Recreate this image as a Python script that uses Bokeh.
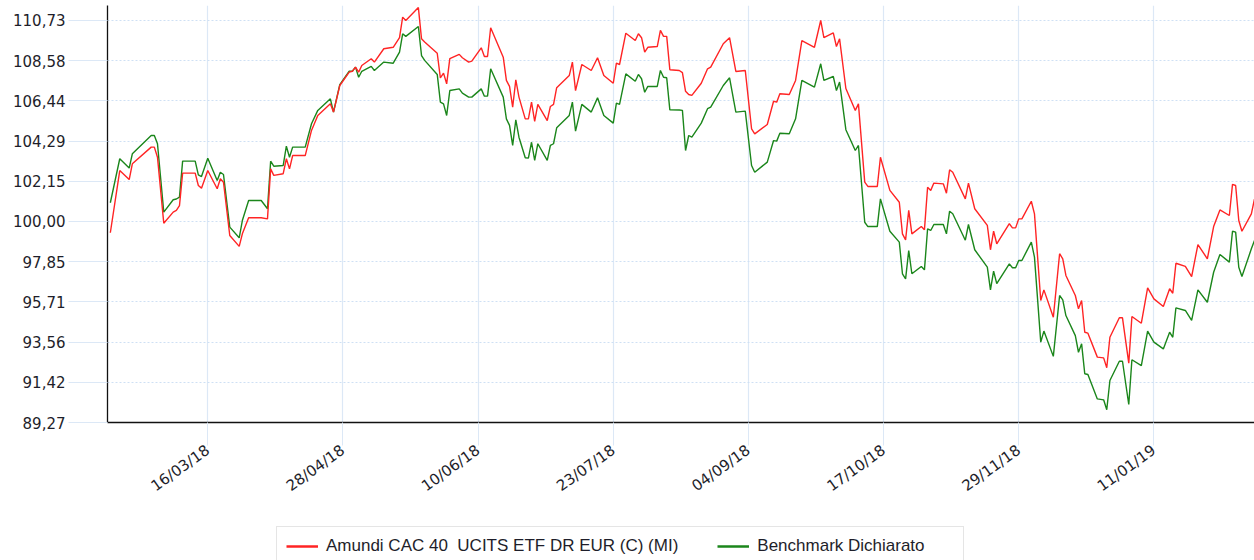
from datetime import datetime
import pandas as pd
from bokeh.plotting import figure
from bokeh.layouts import column
from bokeh.models import (Range1d, FixedTicker, DatetimeTickFormatter, CustomJSTickFormatter,
                          Legend, LegendItem, ColumnDataSource)
from bokeh.embed import file_html
from bokeh.resources import INLINE

# ---------------- data ----------------
dates = [
    "2018-02-13", "2018-02-16", "2018-02-19", "2018-02-20", "2018-02-26", "2018-02-27", "2018-02-28",
    "2018-03-02", "2018-03-05", "2018-03-06", "2018-03-07", "2018-03-08", "2018-03-12", "2018-03-13",
    "2018-03-14", "2018-03-16", "2018-03-19", "2018-03-20", "2018-03-21", "2018-03-23", "2018-03-26",
    "2018-03-27", "2018-03-29", "2018-04-02", "2018-04-04", "2018-04-05", "2018-04-06", "2018-04-09",
    "2018-04-10", "2018-04-11", "2018-04-12", "2018-04-16", "2018-04-18", "2018-04-20", "2018-04-24",
    "2018-04-25", "2018-04-27", "2018-04-30", "2018-05-01", "2018-05-02", "2018-05-03", "2018-05-04",
    "2018-05-07", "2018-05-08", "2018-05-11", "2018-05-14", "2018-05-16", "2018-05-17", "2018-05-18",
    "2018-05-22", "2018-05-23", "2018-05-24", "2018-05-28", "2018-05-29", "2018-05-30", "2018-05-31",
    "2018-06-01", "2018-06-04", "2018-06-05", "2018-06-07", "2018-06-08", "2018-06-11", "2018-06-12",
    "2018-06-13", "2018-06-14", "2018-06-18", "2018-06-19", "2018-06-20", "2018-06-21", "2018-06-22",
    "2018-06-23", "2018-06-25", "2018-06-26", "2018-06-27", "2018-06-28", "2018-06-29", "2018-07-02",
    "2018-07-03", "2018-07-04", "2018-07-05", "2018-07-09", "2018-07-10", "2018-07-11", "2018-07-13",
    "2018-07-16", "2018-07-18", "2018-07-20", "2018-07-23", "2018-07-24", "2018-07-25", "2018-07-27",
    "2018-07-30", "2018-07-31", "2018-08-01", "2018-08-02", "2018-08-03", "2018-08-06", "2018-08-07",
    "2018-08-08", "2018-08-09", "2018-08-10", "2018-08-13", "2018-08-14", "2018-08-15", "2018-08-16",
    "2018-08-17", "2018-08-20", "2018-08-22", "2018-08-23", "2018-08-27", "2018-08-29", "2018-08-31",
    "2018-09-03", "2018-09-05", "2018-09-06", "2018-09-10", "2018-09-12", "2018-09-13", "2018-09-14",
    "2018-09-17", "2018-09-19", "2018-09-21", "2018-09-25", "2018-09-27", "2018-09-28", "2018-10-01",
    "2018-10-02", "2018-10-03", "2018-10-05", "2018-10-08", "2018-10-09", "2018-10-11", "2018-10-12",
    "2018-10-15", "2018-10-16", "2018-10-19", "2018-10-22", "2018-10-23", "2018-10-24", "2018-10-25",
    "2018-10-26", "2018-10-29", "2018-10-30", "2018-10-31", "2018-11-01", "2018-11-02", "2018-11-05",
    "2018-11-06", "2018-11-07", "2018-11-08", "2018-11-12", "2018-11-13", "2018-11-15", "2018-11-19",
    "2018-11-20", "2018-11-21", "2018-11-22", "2018-11-26", "2018-11-27", "2018-11-28", "2018-11-29",
    "2018-11-30", "2018-12-03", "2018-12-04", "2018-12-06", "2018-12-07", "2018-12-10", "2018-12-12",
    "2018-12-13", "2018-12-14", "2018-12-17", "2018-12-18", "2018-12-19", "2018-12-20", "2018-12-21",
    "2018-12-24", "2018-12-26", "2018-12-27", "2018-12-28", "2018-12-31", "2019-01-01", "2019-01-03",
    "2019-01-04", "2019-01-07", "2019-01-09", "2019-01-11", "2019-01-14", "2019-01-16", "2019-01-17",
    "2019-01-18", "2019-01-21", "2019-01-23", "2019-01-25", "2019-01-28", "2019-01-30", "2019-02-01",
    "2019-02-04", "2019-02-05", "2019-02-06", "2019-02-07", "2019-02-08", "2019-02-11", "2019-02-12",
]

fund = [
    99.40, 102.72, 102.24, 103.08, 103.97, 103.97, 103.43,
    99.91, 100.50, 100.59, 100.85, 102.58, 102.58, 101.92,
    101.78, 102.72, 101.75, 102.28, 102.10, 99.25, 98.67,
    99.34, 100.20, 100.20, 100.14, 102.81, 102.46, 102.55,
    103.35, 102.81, 103.52, 103.52, 104.86, 105.66, 106.28,
    105.84, 107.26, 107.97, 108.02, 108.24, 107.97, 108.33,
    108.69, 108.51, 109.22, 109.30, 109.81, 110.91, 110.73,
    111.42, 109.75, 109.58, 108.98, 107.67, 107.92, 107.35,
    108.69, 108.92, 108.74, 108.51, 108.56, 109.27, 108.81,
    108.81, 110.34, 108.77, 107.53, 107.21, 106.10, 107.56,
    106.64, 105.48, 105.48, 106.37, 105.35, 106.25, 105.39,
    106.14, 106.25, 107.14, 107.79, 108.51, 106.99, 108.38,
    108.06, 108.74, 107.79, 107.38, 108.45, 108.38, 110.05,
    109.66, 110.02, 109.81, 109.04, 109.30, 109.34, 110.20,
    109.88, 109.88, 108.10, 108.06, 107.95, 106.95, 106.78,
    106.73, 107.38, 108.15, 108.24, 109.49, 109.81, 108.01,
    108.06, 104.95, 104.68, 105.18, 106.42, 106.37, 106.82,
    106.78, 107.53, 109.66, 109.30, 110.73, 109.81, 110.07,
    109.34, 109.75, 107.10, 105.93, 106.28, 102.10, 101.87,
    101.87, 103.43, 101.66, 101.03, 99.34, 99.02, 100.59,
    99.34, 99.73, 99.56, 101.83, 101.66, 102.05, 102.01,
    101.51, 102.76, 102.63, 101.21, 102.05, 100.68, 99.79,
    98.49, 99.48, 98.81, 99.88, 99.66, 99.66, 100.14,
    100.14, 101.08, 100.41, 95.78, 96.35, 94.89, 98.28,
    98.01, 97.12, 96.05, 95.34, 95.78, 94.09, 94.04,
    92.76, 92.72, 92.19, 93.82, 94.86, 94.86, 92.44,
    94.93, 94.57, 96.46, 95.87, 95.46, 96.41, 96.17,
    97.77, 97.60, 97.06, 98.77, 98.01, 99.73, 100.62,
    100.32, 101.98, 101.92, 100.05, 99.48, 100.41, 101.20,
]

benchmark = [
    101.00, 103.35, 102.85, 103.61, 104.59, 104.59, 104.15,
    100.50, 101.16, 101.20, 101.30, 103.22, 103.22, 102.49,
    102.40, 103.38, 102.19, 102.63, 102.51, 99.70, 99.13,
    100.05, 101.12, 101.12, 100.68, 103.22, 102.95, 102.99,
    104.02, 103.43, 103.97, 103.97, 105.22, 105.93, 106.55,
    105.84, 107.31, 108.02, 108.02, 108.24, 107.70, 108.02,
    108.28, 108.06, 108.51, 108.45, 109.04, 110.02, 109.88,
    110.41, 108.86, 108.60, 107.85, 106.37, 106.28, 105.66,
    106.99, 107.08, 106.85, 106.64, 106.64, 107.08, 106.69,
    106.69, 108.15, 106.64, 105.48, 105.13, 104.06, 105.43,
    104.50, 103.40, 103.38, 104.23, 103.26, 104.15, 103.26,
    104.06, 104.15, 105.00, 105.66, 106.37, 104.82, 106.25,
    105.84, 106.60, 105.66, 105.25, 106.32, 106.25, 107.88,
    107.49, 107.85, 107.62, 106.90, 107.21, 107.21, 108.06,
    107.70, 107.67, 105.96, 105.95, 105.93, 103.79, 104.59,
    104.50, 105.25, 106.02, 106.10, 107.26, 107.67, 105.84,
    105.89, 102.99, 102.63, 103.17, 104.32, 104.29, 104.71,
    104.68, 105.48, 107.53, 107.17, 108.42, 107.53, 107.74,
    106.99, 107.44, 104.90, 103.79, 104.06, 99.96, 99.73,
    99.73, 101.21, 99.48, 98.90, 97.21, 96.94, 98.45,
    97.21, 97.60, 97.42, 99.61, 99.52, 99.84, 99.84,
    99.34, 100.55, 100.41, 99.00, 99.84, 98.49, 97.56,
    96.35, 97.35, 96.68, 97.74, 97.53, 97.53, 97.92,
    97.92, 98.90, 98.10, 93.56, 94.15, 92.80, 96.05,
    95.82, 94.98, 93.91, 93.02, 93.47, 91.87, 91.83,
    90.53, 90.48, 89.95, 91.51, 92.54, 92.54, 90.23,
    92.62, 92.31, 94.15, 93.56, 93.20, 94.09, 93.82,
    95.39, 95.25, 94.72, 96.35, 95.69, 97.29, 98.24,
    97.83, 99.48, 99.43, 97.56, 97.06, 98.54, 98.99,
]

x_tick_dates = ["2018-03-16", "2018-04-28", "2018-06-10", "2018-07-23",
                "2018-09-04", "2018-10-17", "2018-11-29", "2019-01-11"]
y_ticks = [89.27, 91.42, 93.56, 95.71, 97.85, 100.00, 102.15, 104.29, 106.44, 108.58, 110.73]

fund_label = "Amundi CAC 40  UCITS ETF DR EUR (C) (MI)"
bench_label = "Benchmark Dichiarato"

RED = "#ff2424"
GREEN = "#1b861b"

# ---------------- main chart ----------------
src = ColumnDataSource(dict(date=pd.to_datetime(dates), fund=fund, bench=benchmark))
x_rng = Range1d(datetime(2018, 2, 12, 2, 24), datetime(2019, 2, 12))

p = figure(width=1254, height=524, x_axis_type="datetime",
           output_backend="svg", toolbar_location=None,
           x_range=x_rng, y_range=Range1d(89.27, 111.53),
           min_border_left=107, min_border_right=0, min_border_top=5, min_border_bottom=102)
p.outline_line_color = None
p.background_fill_color = "white"
p.border_fill_color = "white"

p.line("date", "bench", source=src, line_color=GREEN, line_width=1.4)
p.line("date", "fund", source=src, line_color=RED, line_width=1.4)

tick_ms = [pd.Timestamp(d).value // 10**6 for d in x_tick_dates]
p.xaxis.ticker = FixedTicker(ticks=tick_ms)
fmt = "%d/%m/%y"
p.xaxis.formatter = DatetimeTickFormatter(days=fmt, months=fmt, years=fmt, hours=fmt,
                                          minutes=fmt, seconds=fmt, milliseconds=fmt,
                                          microseconds=fmt, minsec=fmt, hourmin=fmt)
p.xaxis.major_label_orientation = 0.62
p.xaxis.major_tick_out = 23
p.xaxis.major_tick_in = 0
p.xaxis.major_tick_line_color = "#dce8f6"
p.xaxis.minor_tick_line_color = None
p.xaxis.axis_line_color = "#111111"
p.xaxis.axis_line_width = 1.3
p.xaxis.major_label_standoff = 3

p.yaxis.ticker = FixedTicker(ticks=y_ticks)
p.yaxis.formatter = CustomJSTickFormatter(code="return tick.toFixed(2).replace('.', ',');")
p.yaxis.major_tick_out = 39
p.yaxis.major_tick_in = 0
p.yaxis.major_tick_line_color = "#dce8f6"
p.yaxis.minor_tick_line_color = None
p.yaxis.axis_line_color = "#111111"
p.yaxis.axis_line_width = 1.3
p.yaxis.major_label_standoff = 3

for ax in (p.xaxis, p.yaxis):
    ax.major_label_text_font = "DejaVu Sans"
    ax.major_label_text_font_size = "15px"
    ax.major_label_text_color = "#1e1e2a"

p.xgrid.grid_line_color = "#dce8f6"
p.xgrid.grid_line_width = 1.2
p.ygrid.grid_line_color = "#cfe0f4"
p.ygrid.grid_line_dash = "2 2"
p.ygrid.grid_line_width = 1

# ---------------- legend strip ----------------
# same series, drawn in a range where they are out of view; only their legend entries show
q = figure(width=1254, height=36, output_backend="svg", toolbar_location=None,
           x_axis_type=None, y_axis_type=None,
           x_range=x_rng, y_range=Range1d(0, 1),
           min_border_left=0, min_border_right=0, min_border_top=0, min_border_bottom=0)
q.outline_line_color = None
q.xgrid.visible = False
q.ygrid.visible = False
q.border_fill_color = "white"
q.background_fill_color = "white"
l_fund = q.line("date", "fund", source=src, line_color=RED, line_width=2.5)
l_bench = q.line("date", "bench", source=src, line_color=GREEN, line_width=2.5)

legend = Legend(items=[LegendItem(label=fund_label, renderers=[l_fund]),
                       LegendItem(label=bench_label, renderers=[l_bench])],
                orientation="horizontal", location=(169, -6), margin=0,
                padding=9, spacing=39, glyph_width=32, glyph_height=16,
                label_height=16, label_width=197, label_standoff=8,
                label_text_font="Liberation Sans", label_text_font_size="17px",
                label_text_color="#1e1e2a",
                border_line_color="#cccccc", border_line_width=1,
                background_fill_color="white", background_fill_alpha=1)
q.add_layout(legend, "center")

layout = column(p, q, spacing=0)
open("out.html", "w").write(file_html(layout, INLINE))
